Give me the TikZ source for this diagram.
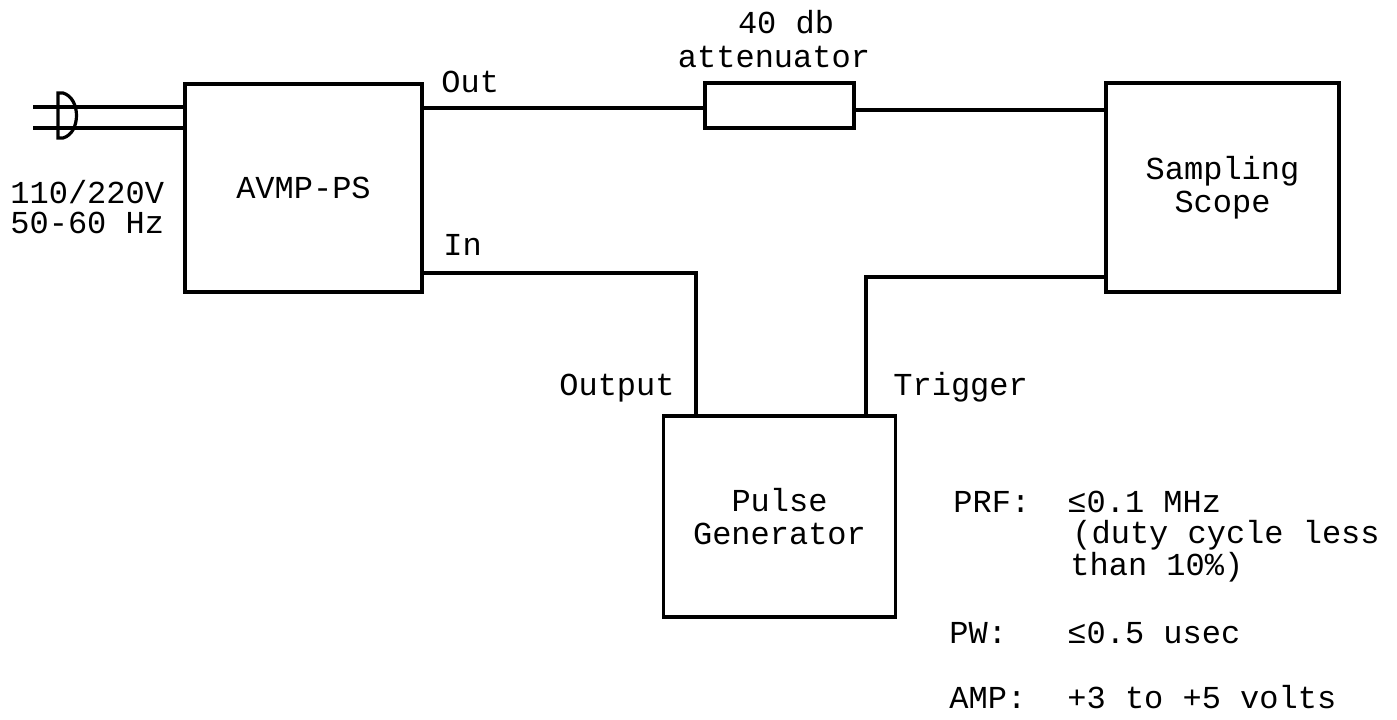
\documentclass[tikz,border=0pt]{standalone}
\usepackage{fontspec}
\setmainfont{Liberation Mono}
\usetikzlibrary{positioning}

\begin{document}
\begin{tikzpicture}[
                x=0.5pt, y=-0.5pt,
                every node/.style={font=\fontsize{16}{16.5}\selectfont, inner sep=0pt},
                unit/.style={draw, line width=1.6pt, align=center},
                wire/.style={line width=1.6pt},
                lbl/.style={anchor=base west},
            ]
            \useasboundingbox (0,0) rectangle (1397,719);
            % boxes
            \node[unit, minimum width=118.5pt, minimum height=104pt] (avmp) at (303.5,188) {AVMP-PS};
            \node[unit, minimum width=74.5pt, minimum height=22.5pt] (att) at (779.5,105.5) {};
            \node[unit, minimum width=116.5pt, minimum height=104.5pt] (scope) at (1222.5,187.5) {Sampling\\Scope};
            \node[unit, minimum width=116pt, minimum height=100.5pt] (pgen) at (779.5,516.5) {Pulse\\Generator};
            % mains plug
            \draw[wire] (58,93) -- (63,93) .. controls (81,98) and (81,133) .. (63,138) -- (58,138) -- cycle;
            \coordinate (acA) at (33,107);
            \coordinate (acB) at (33,128);
            \draw[wire] (acA) -- (acA -| avmp.west);
            \draw[wire] (acB) -- (acB -| avmp.west);
            % connections
            \coordinate (out) at (avmp.east |- 0,108);
            \coordinate (in) at (avmp.east |- 0,273);
            \coordinate (pout) at (pgen.north -| 696,0);
            \coordinate (ptrig) at (pgen.north -| 866,0);
            \draw[wire] (out) -- (out -| att.west);
            \draw[wire] (att.east |- 0,110) -- (scope.west |- 0,110);
            \draw[wire] (in) -| (pout);
            \draw[wire] (ptrig) |- (scope.west |- 0,277);
            % labels
            \node[anchor=west, align=left, font=\fontsize{16}{15}\selectfont] (mains) at (10,207) {110/220V\\50-60 Hz};
            \node[lbl] (lblout) at (441,92) {Out};
            \node[lbl] (lblin) at (443,255) {In};
            \node[anchor=base] (lbldb) at (786,33) {40 db};
            \node[anchor=base] (lblatt) at (774,67) {attenuator};
            \node[anchor=base east] (lbloutput) at (675,395) {Output};
            \node[lbl] (lbltrig) at (893,395) {Trigger};
            % pulse specs
            \node[lbl] (prf) at (953,512) {PRF:};
            \node[lbl] (prfa) at (1067,512) {≤0.1 MHz};
            \node[lbl] (prfb) at (1072,543) {(duty cycle less};
            \node[lbl] (prfc) at (1070,575) {than 10\%)};
            \node[lbl] (pw) at (949,643) {PW:};
            \node[lbl] (pwa) at (1067,643) {≤0.5 usec};
            \node[lbl] (amp) at (949,708) {AMP:};
            \node[lbl] (ampa) at (1067,708) {+3 to +5 volts};
            \end{tikzpicture}
\end{document}
